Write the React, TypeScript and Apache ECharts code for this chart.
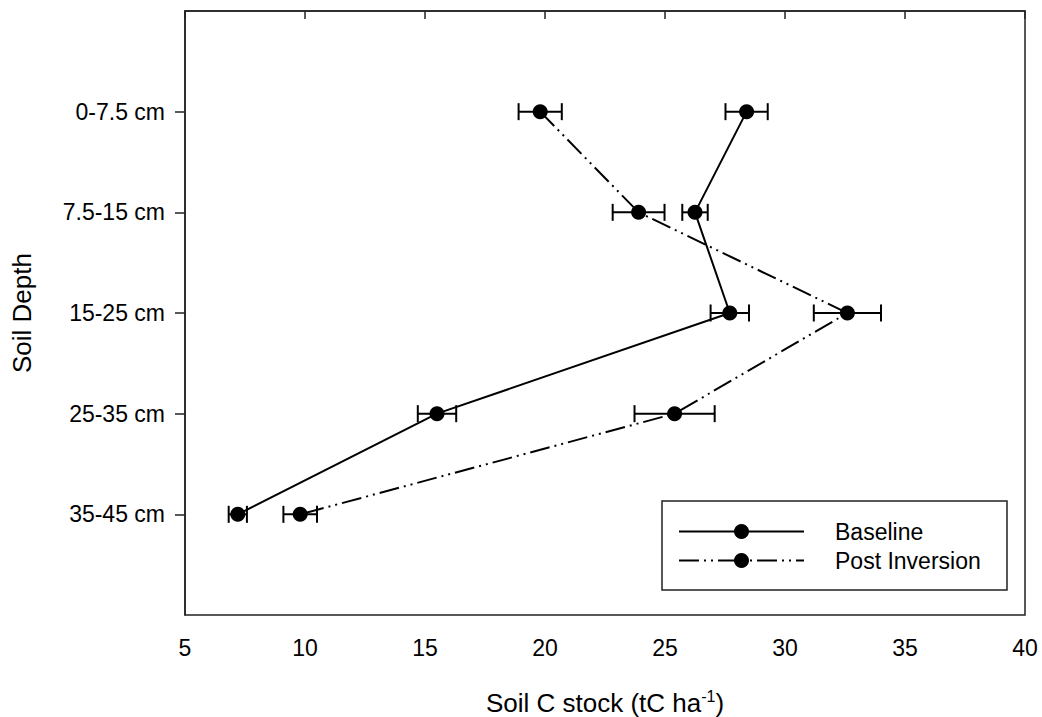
import React, { useEffect, useRef } from "react";
import * as echarts from "echarts";

const depthLabels = ["0-7.5 cm", "7.5-15 cm", "15-25 cm", "25-35 cm", "35-45 cm"];
const depthPositions = [1, 2, 3, 4, 5];
const baselineValues = [28.4, 26.25, 27.7, 15.5, 7.2];
const baselineErrors = [0.88, 0.53, 0.8, 0.8, 0.38];
const postValues = [19.8, 23.9, 32.6, 25.4, 9.8];
const postErrors = [0.9, 1.08, 1.4, 1.67, 0.7];
const xTicks = { min: 5, max: 40, interval: 5 };

const FONT = "'Liberation Sans', Arial, sans-serif";
const INK = "#000";

export default function App() {
  const ref = useRef<HTMLDivElement>(null);
  useEffect(() => {
    if (!ref.current) return;
    const chart = echarts.init(ref.current, undefined, { renderer: "svg" });

    const errData = (vals: number[], errs: number[]) =>
      vals.map((v, i) => [depthPositions[i], v - errs[i], v + errs[i]]);

    const errorBar = (name: string, vals: number[], errs: number[]) => ({
      type: "custom",
      name: name + "-err",
      data: errData(vals, errs),
      encode: { x: [1, 2], y: 0 },
      z: 1,
      silent: true,
      renderItem: (params: any, api: any) => {
        const y = api.value(0);
        const p1 = api.coord([api.value(1), y]);
        const p2 = api.coord([api.value(2), y]);
        const h = 8.5;
        const style = { stroke: INK, lineWidth: 2 };
        return {
          type: "group",
          children: [
            { type: "line", shape: { x1: p1[0], y1: p1[1], x2: p2[0], y2: p2[1] }, style },
            { type: "line", shape: { x1: p1[0], y1: p1[1] - h, x2: p1[0], y2: p1[1] + h }, style },
            { type: "line", shape: { x1: p2[0], y1: p2[1] - h, x2: p2[0], y2: p2[1] + h }, style },
          ],
        };
      },
    });

    const option: any = {
      animation: false,
      backgroundColor: "#fff",
      textStyle: { fontFamily: FONT, color: INK },
      grid: {
        left: 185,
        right: 17,
        top: 11,
        bottom: 102,
        show: true,
        borderColor: "#222",
        borderWidth: 1.5,
        containLabel: false,
        outerBoundsMode: "none",
      },
      legend: {
        orient: "vertical",
        left: 678,
        top: 520,
        itemWidth: 125,
        itemHeight: 18.75,
        itemGap: 6,
        padding: 0,
        data: ["Baseline", "Post Inversion"],
        textStyle: { fontFamily: FONT, fontSize: 23, color: INK, padding: [0, 0, 0, 26] },
      },
      graphic: [
        {
          type: "rect",
          shape: { x: 662, y: 501, width: 345, height: 89 },
          style: { fill: "none", stroke: "#222", lineWidth: 1.5 },
          z: 10,
        },
      ],
      xAxis: {
        type: "value",
        min: xTicks.min,
        max: xTicks.max,
        interval: xTicks.interval,
        name: "Soil C stock (tC ha{sup|-1})",
        nameLocation: "middle",
        nameGap: 73,
        nameTextStyle: {
          fontFamily: FONT,
          fontSize: 26,
          color: INK,
          lineHeight: 30,
          rich: {
            sup: { fontFamily: FONT, fontSize: 16, color: INK, verticalAlign: "top", lineHeight: 16 },
          },
        },
        axisLine: { show: true, lineStyle: { color: "#222", width: 1.5 } },
        axisTick: { show: true, inside: false, length: 8, lineStyle: { color: "#222", width: 1.5 } },
        axisLabel: { fontFamily: FONT, fontSize: 23, color: INK, margin: 21 },
        splitLine: { show: false },
      },
      yAxis: {
        type: "value",
        min: 0,
        max: 6,
        interval: 1,
        inverse: true,
        name: "Soil Depth",
        nameLocation: "middle",
        nameGap: 150,
        nameTextStyle: { fontFamily: FONT, fontSize: 26, color: INK },
        axisLine: { show: true, lineStyle: { color: "#222", width: 1.5 } },
        axisTick: {
          show: true,
          inside: false,
          length: 10,
          customValues: depthPositions,
          lineStyle: { color: "#222", width: 1.5 },
        },
        axisLabel: {
          fontFamily: FONT,
          fontSize: 23,
          color: INK,
          margin: 20,
          customValues: depthPositions,
          formatter: (v: number) => depthLabels[Math.round(v) - 1] ?? "",
        },
        splitLine: { show: false },
      },
      series: [
        errorBar("Baseline", baselineValues, baselineErrors),
        errorBar("Post Inversion", postValues, postErrors),
        {
          type: "line",
          name: "Baseline",
          data: baselineValues.map((v, i) => [v, depthPositions[i]]),
          symbol: "circle",
          symbolSize: 15,
          itemStyle: { color: INK },
          lineStyle: { color: INK, width: 2, type: "solid" },
          z: 3,
        },
        {
          type: "line",
          name: "Post Inversion",
          data: postValues.map((v, i) => [v, depthPositions[i]]),
          symbol: "circle",
          symbolSize: 15,
          itemStyle: { color: INK },
          lineStyle: { color: INK, width: 2, type: [20, 5, 2, 5, 2, 5] },
          z: 3,
        },
      ],
    };
    chart.setOption(option);
    return () => chart.dispose();
  }, []);
  return (
    <div
      ref={ref}
      style={{ position: "absolute", left: 0, top: 0, width: 1042, height: 717, background: "#fff" }}
    />
  );
}
